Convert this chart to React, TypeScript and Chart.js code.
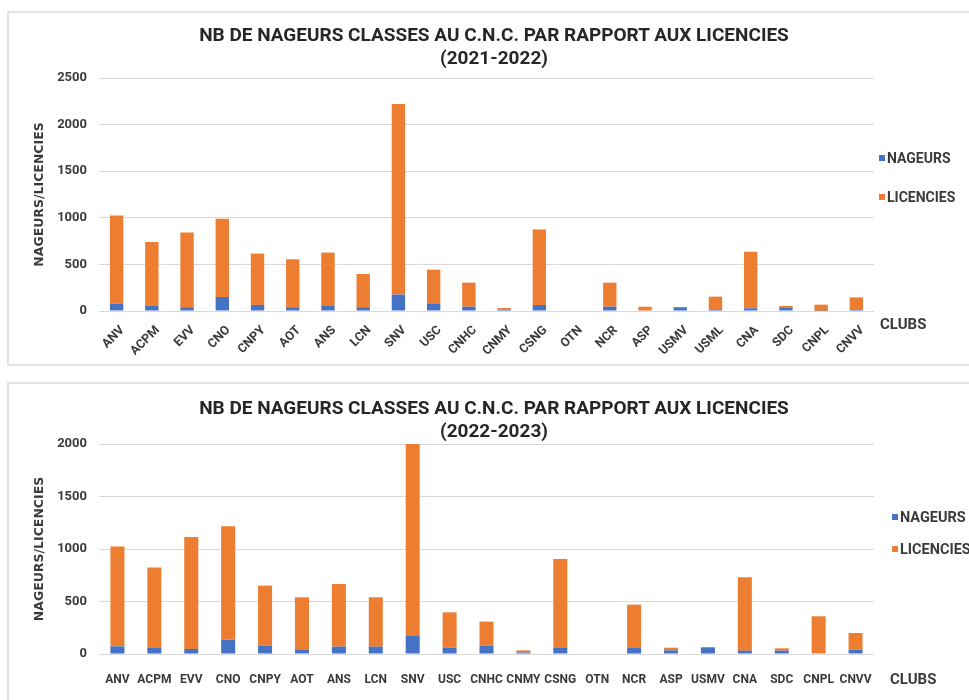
import React, { useEffect, useRef } from 'react';
import { Chart, registerables } from 'chart.js';

Chart.register(...registerables);

// ---- Data ----
const clubs2122 = ['ANV', 'ACPM', 'EVV', 'CNO', 'CNPY', 'AOT', 'ANS', 'LCN', 'SNV', 'USC', 'CNHC', 'CNMY', 'CSNG', 'OTN', 'NCR', 'ASP', 'USMV', 'USML', 'CNA', 'SDC', 'CNPL', 'CNVV'];
const nageurs2122 = [80, 60, 40, 150, 65, 40, 60, 40, 176, 75, 46, 15, 64, 0, 46, 5, 40, 18, 29, 32, 2, 18];
const licencies2122 = [945, 680, 801, 840, 551, 515, 567, 357, 2044, 368, 258, 17, 811, 0, 258, 41, 3, 136, 607, 22, 66, 128];

const clubs2223 = ['ANV', 'ACPM', 'EVV', 'CNO', 'CNPY', 'AOT', 'ANS', 'LCN', 'SNV', 'USC', 'CNHC', 'CNMY', 'CSNG', 'OTN', 'NCR', 'ASP', 'USMV', 'CNA', 'SDC', 'CNPL', 'CNVV'];
const nageurs2223 = [73, 60, 48, 137, 79, 44, 70, 70, 178, 60, 79, 15, 57, 0, 57, 35, 63, 32, 32, 5, 41];
const licencies2223 = [952, 765, 1066, 1079, 572, 496, 597, 470, 1822, 337, 229, 20, 848, 0, 413, 25, 3, 698, 22, 354, 159];

const yTicksMax2122 = 2500;
const yTicksMax2223 = 2000;
const yStep = 500;

const TITLE = 'NB DE NAGEURS CLASSES AU C.N.C. PAR RAPPORT AUX LICENCIES';
const SEASON1 = '(2021-2022)';
const SEASON2 = '(2022-2023)';
const Y_TITLE = 'NAGEURS/LICENCIES';
const X_TITLE = 'CLUBS';
const SERIES = ['NAGEURS', 'LICENCIES'];

// ---- Style ----
const BLUE = '#4472C4';
const ORANGE = '#ED7D31';
const FONT = 'Roboto';
const TEXT = '#3a3a3a';
const W = 969;

type Props = {
  labels: string[];
  nageurs: number[];
  licencies: number[];
  yMax: number;
  rotate: boolean;
  top: number;
  height: number;
  areaTop: number;
  areaBottom: number;
};

function BarChart({ labels, nageurs, licencies, yMax, rotate, top, height, areaTop, areaBottom }: Props) {
  const ref = useRef<HTMLCanvasElement>(null);
  useEffect(() => {
    const chart = new Chart(ref.current!, {
      type: 'bar',
      data: {
        labels,
        datasets: [
          { label: SERIES[0], data: nageurs, backgroundColor: BLUE, barPercentage: 0.38, categoryPercentage: 1 },
          { label: SERIES[1], data: licencies, backgroundColor: ORANGE, barPercentage: 0.38, categoryPercentage: 1 },
        ],
      },
      options: {
        responsive: false,
        animation: false,
        layout: { padding: { top: areaTop, right: W - 874, left: 0, bottom: 0 } },
        plugins: { legend: { display: false }, tooltip: { enabled: false }, title: { display: false } },
        scales: {
          x: {
            stacked: true,
            grid: { display: false },
            border: { display: false },
            ticks: {
              autoSkip: false,
              maxRotation: rotate ? 45 : 0,
              minRotation: rotate ? 45 : 0,
              padding: rotate ? 4 : 11,
              labelOffset: rotate ? 6 : 0,
              font: { family: FONT, size: rotate ? 12.5 : 12, weight: 'bold' },
              color: TEXT,
            },
            afterFit: (s: any) => {
              s.height = height - areaBottom;
            },
          },
          y: {
            stacked: true,
            min: 0,
            max: yMax,
            ticks: {
              stepSize: yStep,
              padding: 12,
              font: { family: FONT, size: 13, weight: 'bold' },
              color: TEXT,
              callback: (v: any) => String(v),
            },
            grid: { color: '#d9d9d9', drawTicks: false },
            border: { display: false },
            title: {
              display: true,
              text: Y_TITLE,
              font: { family: 'DejaVu Sans', size: 12.5, weight: 'bold' },
              color: TEXT,
              padding: { top: 32, bottom: 0 },
            },
            afterFit: (s: any) => {
              s.width = 99;
            },
          },
        },
      },
    } as any);
    return () => chart.destroy();
  }, []);
  return (
    <canvas
      ref={ref}
      width={W}
      height={height}
      style={{ position: 'absolute', left: 0, top, width: W, height, display: 'block' }}
    />
  );
}

const abs = (o: React.CSSProperties): React.CSSProperties => ({ position: 'absolute', ...o });

function Legend({ x, y1, y2, size }: { x: number; y1: number; y2: number; size: number }) {
  const item = (y: number, color: string, text: string) => (
    <div style={abs({ left: x, top: y - 10, height: 20, display: 'flex', alignItems: 'center', whiteSpace: 'nowrap' })}>
      <div style={{ width: 6, height: 6, background: color, marginRight: 2 }} />
      <span style={{ fontFamily: FONT, fontWeight: 700, fontSize: size, color: TEXT }}>{text}</span>
    </div>
  );
  return (
    <>
      {item(y1, BLUE, SERIES[0])}
      {item(y2, ORANGE, SERIES[1])}
    </>
  );
}

function Title({ y, season }: { y: number; season: string }) {
  return (
    <div
      style={abs({
        left: 0,
        width: 988,
        top: y,
        textAlign: 'center',
        fontFamily: FONT,
        fontWeight: 700,
        fontSize: 19,
        lineHeight: '23px',
        color: '#262626',
        whiteSpace: 'nowrap',
      })}
    >
      <div>{TITLE}</div>
      <div>{season}</div>
    </div>
  );
}

export default function App() {
  return (
    <div style={{ position: 'fixed', left: 0, top: 0, width: '100vw', height: '100vh', overflow: 'hidden', background: '#fff' }}>
      <div style={abs({ left: 7, top: 11, width: 1000, height: 355, border: '2px solid #e4e4e4', boxSizing: 'border-box' })} />
      <div style={abs({ left: 7, top: 382, width: 1000, height: 400, border: '2px solid #e4e4e4', boxSizing: 'border-box' })} />

      <BarChart
        labels={clubs2122}
        nageurs={nageurs2122}
        licencies={licencies2122}
        yMax={yTicksMax2122}
        rotate={true}
        top={0}
        height={366}
        areaTop={78}
        areaBottom={311}
      />
      <BarChart
        labels={clubs2223}
        nageurs={nageurs2223}
        licencies={licencies2223}
        yMax={yTicksMax2223}
        rotate={false}
        top={383}
        height={317}
        areaTop={61}
        areaBottom={271}
      />

      <Title y={23} season={SEASON1} />
      <Title y={396} season={SEASON2} />

      <Legend x={879} y1={158} y2={197} size={14} />
      <Legend x={892} y1={517} y2={549} size={14.5} />

      <div style={abs({ left: 880, top: 315, fontFamily: FONT, fontWeight: 700, fontSize: 15, color: TEXT })}>{X_TITLE}</div>
      <div style={abs({ left: 890, top: 670, fontFamily: FONT, fontWeight: 700, fontSize: 15, color: TEXT })}>{X_TITLE}</div>
    </div>
  );
}
